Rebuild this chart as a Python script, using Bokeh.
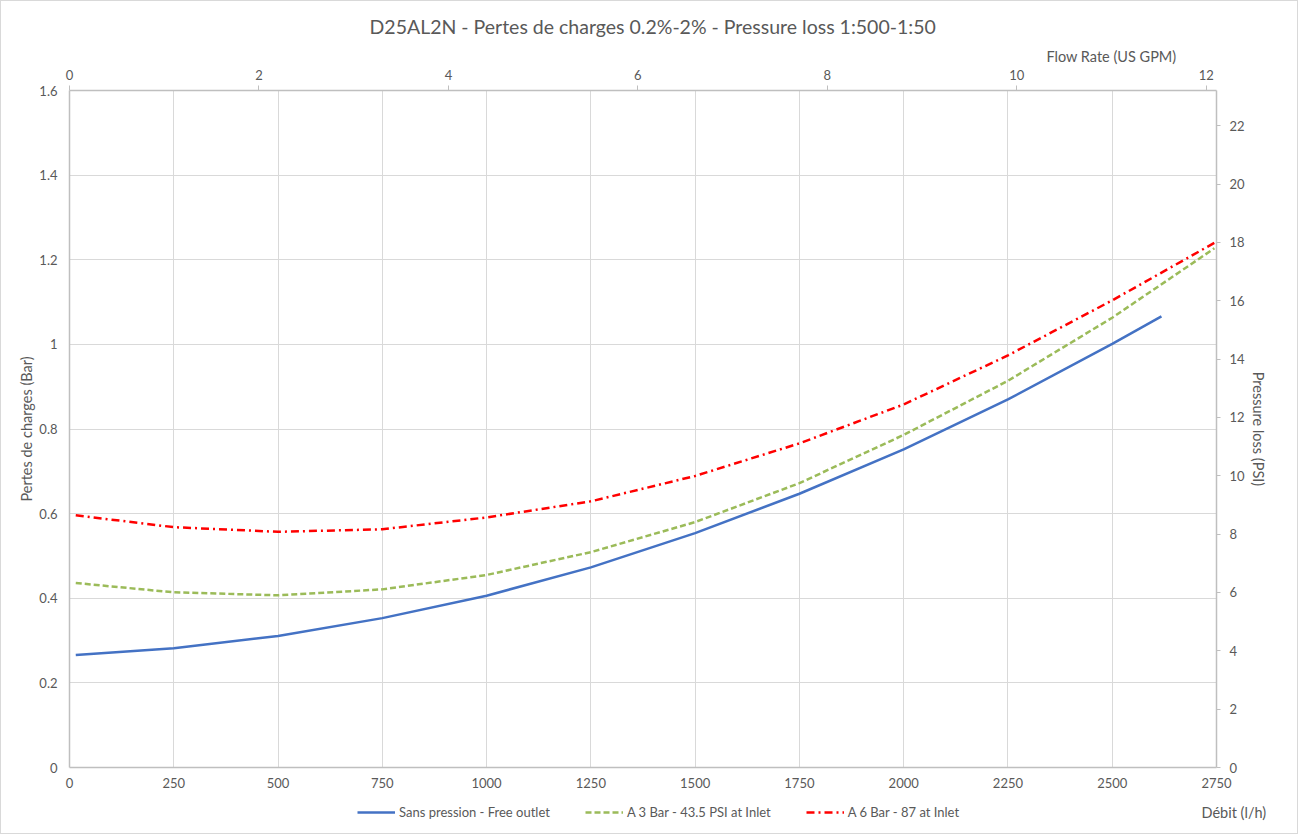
from bokeh.plotting import figure
from bokeh.layouts import column
from bokeh.models import LinearAxis, Range1d, FixedTicker, Legend, LegendItem, Title
from bokeh.embed import file_html
from bokeh.resources import INLINE

FONT = "Lato"
TXT = "#595959"
AXIS_COL = "#BFBFBF"
GRID_COL = "#D9D9D9"

# ---- data ----
flow_free = [15, 250, 500, 750, 1000, 1250, 1500, 1750, 2000, 2250, 2500, 2618]
loss_free = [0.266, 0.282, 0.311, 0.353, 0.406, 0.473, 0.554, 0.647, 0.752, 0.870, 1.001, 1.066]

flow_3bar = [15, 250, 500, 750, 1000, 1250, 1500, 1750, 2000, 2250, 2500, 2745]
loss_3bar = [0.436, 0.414, 0.407, 0.421, 0.455, 0.509, 0.580, 0.672, 0.786, 0.914, 1.063, 1.227]

flow_6bar = [15, 250, 500, 750, 1000, 1250, 1500, 1750, 2000, 2250, 2500, 2745]
loss_6bar = [0.596, 0.568, 0.557, 0.563, 0.591, 0.629, 0.689, 0.766, 0.858, 0.974, 1.104, 1.240]

series_names = ["Sans pression - Free outlet", "A 3 Bar - 43.5 PSI at Inlet", "A 6 Bar - 87 at Inlet"]
series_colors = ["#4472C4", "#9BBB59", "#FF0000"]
series_dash = ["solid", "6 3", "8 4 2 4"]

x_ticks = [0, 250, 500, 750, 1000, 1250, 1500, 1750, 2000, 2250, 2500, 2750]
y_ticks = [0, 0.2, 0.4, 0.6, 0.8, 1.0, 1.2, 1.4, 1.6]
gpm_ticks = [0, 2, 4, 6, 8, 10, 12]
psi_ticks = [0, 2, 4, 6, 8, 10, 12, 14, 16, 18, 20, 22]

X_MAX = 2750
Y_MAX = 1.6
BAR_TO_PSI = 14.5038
LH_TO_GPM = 1.0 / (60 * 3.785411784)

title_text = "D25AL2N - Pertes de charges 0.2%-2% - Pressure loss 1:500-1:50"
top_label = "Flow Rate (US GPM)"
bottom_label = "Débit (l/h)"
left_label = "Pertes de charges (Bar)"
right_label = "Pressure loss (PSI)"

W = 1296
BL, BR = 68, 81
FRAME_W = W - BL - BR
p = figure(
    width=W, height=794,
    min_border_left=BL, min_border_right=BR, min_border_top=89, min_border_bottom=28,
    x_range=Range1d(0, X_MAX), y_range=Range1d(0, Y_MAX),
    output_backend="svg", toolbar_location=None,
)
p.extra_x_ranges = {"gpm": Range1d(0, X_MAX * LH_TO_GPM)}
p.extra_y_ranges = {"psi": Range1d(0, Y_MAX * BAR_TO_PSI)}

p.outline_line_color = None
p.background_fill_color = "white"
p.border_fill_color = "white"

p.title = Title(text=title_text, align="left", offset=300, standoff=12,
                text_font=FONT, text_font_size="19.5px", text_font_style="normal",
                text_color=TXT)

def style_axis(ax, tick_out, standoff):
    ax.axis_line_color = AXIS_COL
    ax.axis_line_width = 1.5
    ax.major_tick_line_color = AXIS_COL
    ax.major_tick_line_width = 1
    ax.major_tick_out = tick_out
    ax.major_tick_in = 0
    ax.minor_tick_line_color = None
    ax.major_label_text_font = FONT
    ax.major_label_text_font_size = "13px"
    ax.major_label_text_color = TXT
    ax.major_label_standoff = standoff
    ax.axis_label_text_font = FONT
    ax.axis_label_text_font_size = "14.5px"
    ax.axis_label_text_font_style = "normal"
    ax.axis_label_text_color = TXT

xa = p.xaxis[0]
xa.ticker = FixedTicker(ticks=x_ticks)
style_axis(xa, 0, 10)

ya = p.yaxis[0]
ya.ticker = FixedTicker(ticks=y_ticks)
ya.axis_label = left_label
ya.axis_label_standoff = 1
style_axis(ya, 0, 12)

top = LinearAxis(x_range_name="gpm", ticker=FixedTicker(ticks=gpm_ticks))
style_axis(top, 5, 6)
p.add_layout(top, "above")

p.add_layout(Title(text=top_label, align="right", offset=40, standoff=4,
                   text_font=FONT, text_font_size="14.5px", text_font_style="normal",
                   text_color=TXT), "above")

right = LinearAxis(y_range_name="psi", ticker=FixedTicker(ticks=psi_ticks),
                   axis_label=right_label)
style_axis(right, 4, 9)
right.axis_label_standoff = 2
p.add_layout(right, "right")

p.xgrid.grid_line_color = GRID_COL
p.ygrid.grid_line_color = GRID_COL
p.xgrid.grid_line_width = 1
p.ygrid.grid_line_width = 1

series_flow = [flow_free, flow_3bar, flow_6bar]
series_loss = [loss_free, loss_3bar, loss_6bar]
for fl, ls, col, dash in zip(series_flow, series_loss, series_colors, series_dash):
    p.line(fl, ls, line_color=col, line_width=2.5, line_dash=dash)

# ---- legend strip below the chart (frame aligned with the chart frame, pixel units) ----
H2 = 38
ROW_Y = 21
q = figure(width=W, height=H2, x_range=Range1d(0, FRAME_W), y_range=Range1d(0, H2),
           min_border_left=BL, min_border_right=BR, min_border_top=0, min_border_bottom=0,
           x_axis_type=None, y_axis_type=None,
           output_backend="svg", toolbar_location=None)
q.outline_line_color = None
q.grid.visible = False
q.border_fill_color = "white"
# keep the legend's sample lines out of view (y range far above the data)
q.extra_y_ranges = {"hidden": Range1d(10 * Y_MAX, 20 * Y_MAX)}

items = []
for fl, ls, name, col, dash in zip(series_flow, series_loss, series_names, series_colors, series_dash):
    r = q.line(fl, ls, y_range_name="hidden", line_color=col, line_width=2.5, line_dash=dash)
    items.append(LegendItem(label=name, renderers=[r]))

legend = Legend(
    items=items, orientation="horizontal", location=(288, 13),
    border_line_color=None, background_fill_alpha=0,
    label_text_font=FONT, label_text_font_size="13px", label_text_color=TXT,
    glyph_width=38, glyph_height=14, label_height=16, label_standoff=4, spacing=35,
    padding=4, margin=0,
)
q.add_layout(legend)

# title of the l/h scale, in the legend row at the right (label of a bare right axis)
flow_title_axis = LinearAxis(ticker=FixedTicker(ticks=[ROW_Y]),
                             major_label_overrides={ROW_Y: bottom_label})
flow_title_axis.axis_line_color = None
flow_title_axis.major_tick_line_color = None
flow_title_axis.minor_tick_line_color = None
flow_title_axis.major_tick_out = 0
flow_title_axis.major_tick_in = 0
flow_title_axis.major_label_standoff = -15
flow_title_axis.major_label_text_font = FONT
flow_title_axis.major_label_text_font_size = "14.5px"
flow_title_axis.major_label_text_color = TXT
q.add_layout(flow_title_axis, "right")

layout = column(p, q, spacing=0)
layout.styles = {"border": "1px solid #D9D9D9"}

open("out.html", "w").write(file_html(layout, INLINE))
